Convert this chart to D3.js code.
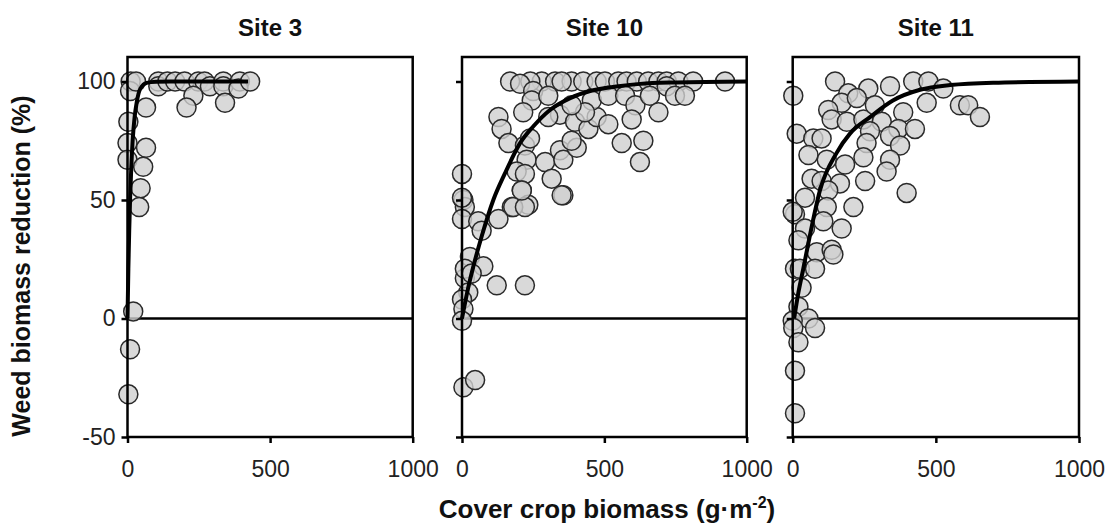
<!DOCTYPE html>
<html><head><meta charset="utf-8">
<script src="https://cdn.jsdelivr.net/npm/d3@7"></script>
<style>
body{margin:0;background:#fff;}
text{font-family:"Liberation Sans",Arial,sans-serif;}
</style></head>
<body><svg id="c" width="1112" height="524"></svg>
<script>
const panelTitles = ["Site 3", "Site 10", "Site 11"];
const xTicks = [0, 500, 1000];
const yTicks = [-50, 0, 50, 100];

const site3Points = [[11,100],[9,96],[30,100],[108,100],[108,98],[140,100],[167,100],[200,100],[248,100],[270,100],[289,98],[336,100],[336,98],[394,100],[389,97],[430,100],[231,94],[207,89],[342,91],[65,89],[3,83],[0,74],[65,72],[0,67],[55,64],[46,55],[41,47],[20,3],[9,-13],[3,-32]];
const site10Points = [[169,100],[280,100],[327,100],[385,100],[426,100],[473,100],[502,100],[549,100],[578,100],[614,100],[654,100],[690,100],[719,100],[760,100],[812,100],[924,100],[240,100],[350,100],
[204,99],[250,96],[245,92],[215,87],[303,94],[344,86],[303,85],[397,83],[444,80],[473,85],[514,82],[456,92],[514,94],[573,94],[609,90],[660,94],[719,98],[748,94],[783,94],[596,84],[690,87],[561,74],[637,75],[625,66],
[128,85],[139,80],[163,74],[221,73],[239,76],[227,67],[192,62],[221,61],[210,54],[233,48],[175,47],[292,66],[344,71],[356,67],[403,72],[385,75],[315,59],[356,52],[432,87],[385,90],
[0,61],[5,50],[10,47],[0,51],[0,42],[57,41],[69,37],[128,42],[180,47],[221,47],[210,54],[350,52],[28,26],[75,22],[10,17],[122,14],[221,14],[22,11],[0,8],[5,4],[0,-1],[10,21],[34,19],[5,-29],[46,-26]];
const site11Points = [[148,100],[2,94],[194,95],[264,97],[340,98],[421,100],[474,100],[526,97],[468,91],[584,90],[613,90],[654,85],[171,91],[224,93],[124,88],[136,84],[189,83],[247,84],[287,90],[311,83],[386,87],[369,80],[427,80],[340,77],[270,79],[258,74],[375,73],[340,67],[328,62],[247,68],[253,58],[398,53],
[14,78],[72,76],[101,76],[55,69],[119,67],[183,65],[66,59],[101,58],[165,57],[124,54],[43,51],[119,47],[212,47],[8,44],[0,45],[43,38],[107,41],[171,38],[20,33],[84,28],[136,29],[142,27],[8,21],[25,21],[78,21],[31,13],[20,5],[55,0],[0,-1],[2,-4],[78,-4],[20,-10],[8,-22],[8,-40]];

const site3Curve = [[0,0],[3,21],[6,37],[9,50],[13,63],[18,75],[25,85],[32,91],[45,97],[67,99.4],[100,99.9],[150,100],[423,100]];
const site10Curve = [[0,0],[20,12],[40,22],[70,35],[110,50],[150,61],[204,74],[250,81],[309,88],[380,93],[450,96],[550,98],[625,99],[750,99.6],[1000,100]];
const site11Curve = [[5,0],[20,11],[37,21],[60,35],[95,54],[154,70],[200,78],[270,85],[350,92],[445,96.5],[550,98.5],[700,99.5],[1000,100]];

const pointSets = [site3Points, site10Points, site11Points];
const curveSets = [site3Curve, site10Curve, site11Curve];

const svg = d3.select("#c");
const panelX = [[127.5, 412.7], [462, 746.7], [792.7, 1079]];
const frameTop = 57, frameBottom = 437;
const y = d3.scaleLinear().domain([-50, 110]).range([437, 57.8]);
const fmt = d => String(d);

panelX.forEach((rx, i) => {
  const x = d3.scaleLinear().domain([0, 1000]).range(rx);
  const g = svg.append("g");
  g.append("line").attr("x1", rx[0]).attr("x2", rx[1]).attr("y1", y(0)).attr("y2", y(0))
    .attr("stroke", "#000").attr("stroke-width", 2.5);
  g.selectAll("circle").data(pointSets[i]).join("circle")
    .attr("cx", d => x(d[0])).attr("cy", d => y(d[1])).attr("r", 9.5)
    .attr("fill", "#cfcfcf").attr("fill-opacity", 0.8)
    .attr("stroke", "#2a2a2a").attr("stroke-width", 1.5);
  g.append("path").datum(curveSets[i])
    .attr("d", d3.line().x(d => x(d[0])).y(d => y(d[1])).curve(d3.curveMonotoneX))
    .attr("fill", "none").attr("stroke", "#000").attr("stroke-width", 4);
  g.append("rect").attr("x", rx[0]).attr("y", frameTop).attr("width", rx[1] - rx[0]).attr("height", frameBottom - frameTop)
    .attr("fill", "none").attr("stroke", "#000").attr("stroke-width", 2.5);
  const ya = g.append("g").attr("transform", `translate(${rx[0]},0)`)
    .call(d3.axisLeft(y).tickValues(yTicks).tickSize(6).tickSizeOuter(0)
      .tickFormat(i === 0 ? fmt : () => ""));
  ya.select(".domain").remove();
  ya.selectAll("line").attr("stroke", "#000").attr("stroke-width", 2.5);
  ya.selectAll("text").attr("font-size", 23).attr("fill", "#222").attr("x", -12)
    .style("font-family", '"Liberation Sans",Arial,sans-serif');
  const xa = g.append("g").attr("transform", `translate(0,${frameBottom})`)
    .call(d3.axisBottom(x).tickValues(xTicks).tickSize(6).tickSizeOuter(0).tickFormat(fmt));
  xa.select(".domain").remove();
  xa.selectAll("line").attr("stroke", "#000").attr("stroke-width", 2.5);
  xa.selectAll("text").attr("font-size", 23).attr("fill", "#222").attr("y", 24)
    .style("font-family", '"Liberation Sans",Arial,sans-serif');
  g.append("text").attr("x", (rx[0] + rx[1]) / 2).attr("y", 36).attr("text-anchor", "middle")
    .attr("font-size", 24).attr("font-weight", "bold").attr("fill", "#111").text(panelTitles[i]);
});

svg.append("text").attr("transform", "translate(30,266) rotate(-90)").attr("text-anchor", "middle")
  .attr("font-size", 25).attr("font-weight", "bold").attr("fill", "#111").text("Weed biomass reduction (%)");
const xt = svg.append("text").attr("x", 607).attr("y", 518).attr("text-anchor", "middle")
  .attr("font-size", 26).attr("font-weight", "bold").attr("fill", "#111");
xt.append("tspan").text("Cover crop biomass (g·m");
xt.append("tspan").attr("font-size", 16).attr("dy", -10).text("-2");
xt.append("tspan").attr("dy", 10).text(")");
</script></body></html>
